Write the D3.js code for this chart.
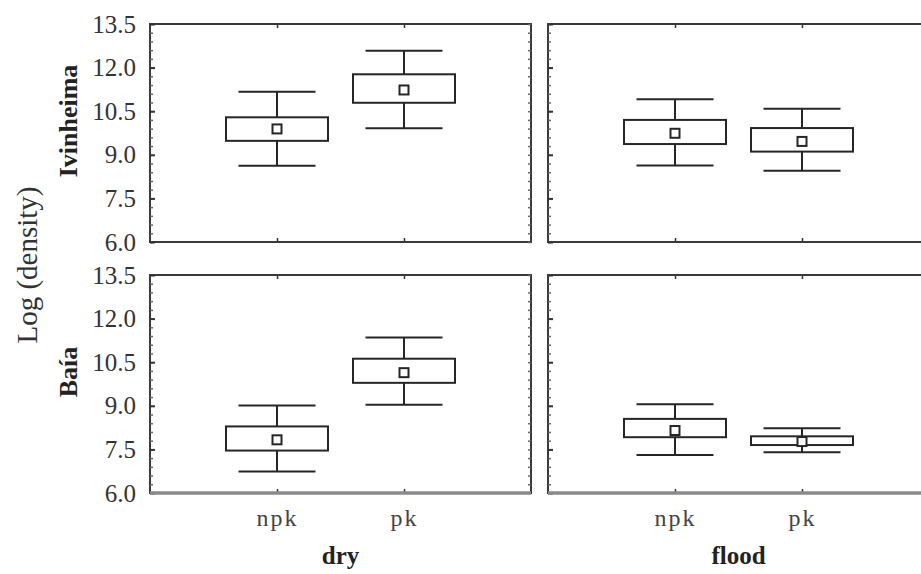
<!DOCTYPE html>
<html>
<head>
<meta charset="utf-8">
<script src="https://cdn.jsdelivr.net/npm/d3@7"></script>
<style>
  body { margin: 0; background: #fff; }
  svg { display: block; font-family: "Liberation Serif", "Times New Roman", serif; }
</style>
</head>
<body>
<svg id="chart" width="921" height="574"></svg>
<script>
// categories
var treatments = ["npk", "pk"];
var seasons = ["dry", "flood"];
var sites = ["Ivinheima", "Baía"];
var yTicks = [6.0, 7.5, 9.0, 10.5, 12.0, 13.5];

// each treatment: [whisker low, box low, mean, box high, whisker high]
var ivinheimaDry   = [[8.62, 9.48, 9.89, 10.29, 11.17], [9.91, 10.79, 11.23, 11.77, 12.58]];
var ivinheimaFlood = [[8.63, 9.37, 9.74, 10.20, 10.91], [8.45, 9.11, 9.46, 9.92, 10.58]];
var baiaDry        = [[6.74, 7.46, 7.83, 8.29, 9.01], [9.04, 9.79, 10.14, 10.62, 11.35]];
var baiaFlood      = [[7.31, 7.92, 8.15, 8.55, 9.05], [7.40, 7.65, 7.77, 7.95, 8.23]];

var panels = [
	{site: 0, season: 0, stats: ivinheimaDry},
	{site: 0, season: 1, stats: ivinheimaFlood},
	{site: 1, season: 0, stats: baiaDry},
	{site: 1, season: 1, stats: baiaFlood}
];

var svg = d3.select("#chart");
var panelW = 381, panelH = 218;
var colX = [150, 548], rowY = [24, 275];
var boxHalf = 51, capHalf = 38.5;

var x = d3.scalePoint().domain(treatments).range([0, panelW]).padding(1);
var y = d3.scaleLinear().domain([6, 13.5]).range([panelH, 0]);
var minorTicks = d3.range(6, 13.5001, 0.3);

panels.forEach(function(p){
	var g = svg.append("g")
		.attr("transform", "translate(" + colX[p.season] + "," + rowY[p.site] + ")");

	// frame
	g.append("rect")
		.attr("width", panelW).attr("height", panelH)
		.attr("fill", "#fff").attr("stroke", "#3a3a3a").attr("stroke-width", 2);

	// minor ticks, left and right edges
	var minorL = g.append("g").call(d3.axisLeft(y).tickValues(minorTicks).tickSize(-3).tickFormat(""));
	var minorR = g.append("g").attr("transform", "translate(" + panelW + ",0)")
		.call(d3.axisRight(y).tickValues(minorTicks).tickSize(-3).tickFormat(""));
	[minorL, minorR].forEach(function(a){
		a.select(".domain").remove();
		a.selectAll("line").attr("stroke", "#666").attr("stroke-width", 1.5);
	});

	// major ticks left with labels on first column
	var left = g.append("g")
		.call(d3.axisLeft(y).tickValues(yTicks).tickSize(-5).tickPadding(14)
			.tickFormat(p.season == 0 ? d3.format(".1f") : ""));
	left.select(".domain").remove();
	left.selectAll("line").attr("stroke", "#333").attr("stroke-width", 2);
	left.selectAll("text").attr("font-size", 25).attr("fill", "#333")
		.attr("font-family", "Liberation Serif");

	// category ticks top and bottom
	var top = g.append("g").call(d3.axisTop(x).tickSize(-4).tickFormat(""));
	top.select(".domain").remove();
	top.selectAll("line").attr("stroke", "#333").attr("stroke-width", 1.5);

	var bottom = g.append("g").attr("transform", "translate(0," + panelH + ")")
		.call(d3.axisBottom(x).tickSize(-4).tickFormat(p.site == 1 ? null : ""));
	bottom.select(".domain").remove();
	bottom.selectAll("line").attr("stroke", "#333").attr("stroke-width", 1.5);
	bottom.selectAll("text").attr("font-size", 24).attr("fill", "#444")
		.attr("font-family", "Liberation Serif")
		.attr("letter-spacing", 2).attr("y", 33).attr("dy", 0);

	if (p.site == 1) {
		g.append("line")
			.attr("x1", 0).attr("x2", panelW).attr("y1", panelH).attr("y2", panelH)
			.attr("stroke", "#8a8a8a").attr("stroke-width", 3.5);
		g.append("text")
			.attr("x", panelW / 2).attr("y", panelH + 71)
			.attr("text-anchor", "middle").attr("font-size", 25).attr("font-weight", "bold")
			.attr("fill", "#222").text(seasons[p.season]);
	}

	// boxes
	var b = g.selectAll("g.box").data(p.stats).enter().append("g")
		.attr("class", "box")
		.attr("transform", function(d, i){ return "translate(" + x(treatments[i]) + ",0)"; });

	b.append("line").attr("x1", 0).attr("x2", 0)
		.attr("y1", function(d){ return y(d[0]); }).attr("y2", function(d){ return y(d[1]); });
	b.append("line").attr("x1", 0).attr("x2", 0)
		.attr("y1", function(d){ return y(d[3]); }).attr("y2", function(d){ return y(d[4]); });
	b.append("line").attr("x1", -capHalf).attr("x2", capHalf)
		.attr("y1", function(d){ return y(d[0]); }).attr("y2", function(d){ return y(d[0]); });
	b.append("line").attr("x1", -capHalf).attr("x2", capHalf)
		.attr("y1", function(d){ return y(d[4]); }).attr("y2", function(d){ return y(d[4]); });
	b.append("rect")
		.attr("x", -boxHalf).attr("width", boxHalf * 2)
		.attr("y", function(d){ return y(d[3]); })
		.attr("height", function(d){ return y(d[1]) - y(d[3]); })
		.attr("fill", "#fff");
	b.append("rect")
		.attr("x", -4.5).attr("width", 9)
		.attr("y", function(d){ return y(d[2]) - 4.5; }).attr("height", 9)
		.attr("fill", "#fff");
	b.selectAll("line, rect").attr("stroke", "#262626").attr("stroke-width", 2);
});

// row labels
svg.selectAll("text.site").data(sites).enter().append("text")
	.attr("class", "site")
	.attr("transform", function(d, i){ return "translate(77," + (rowY[i] + 97) + ") rotate(-90)"; })
	.attr("text-anchor", "middle").attr("font-size", 26).attr("font-weight", "bold")
	.attr("fill", "#222").text(function(d){ return d; });

svg.append("text")
	.attr("transform", "translate(37,265) rotate(-90)")
	.attr("text-anchor", "middle").attr("font-size", 29)
	.attr("fill", "#333").text("Log (density)");
</script>
</body>
</html>
